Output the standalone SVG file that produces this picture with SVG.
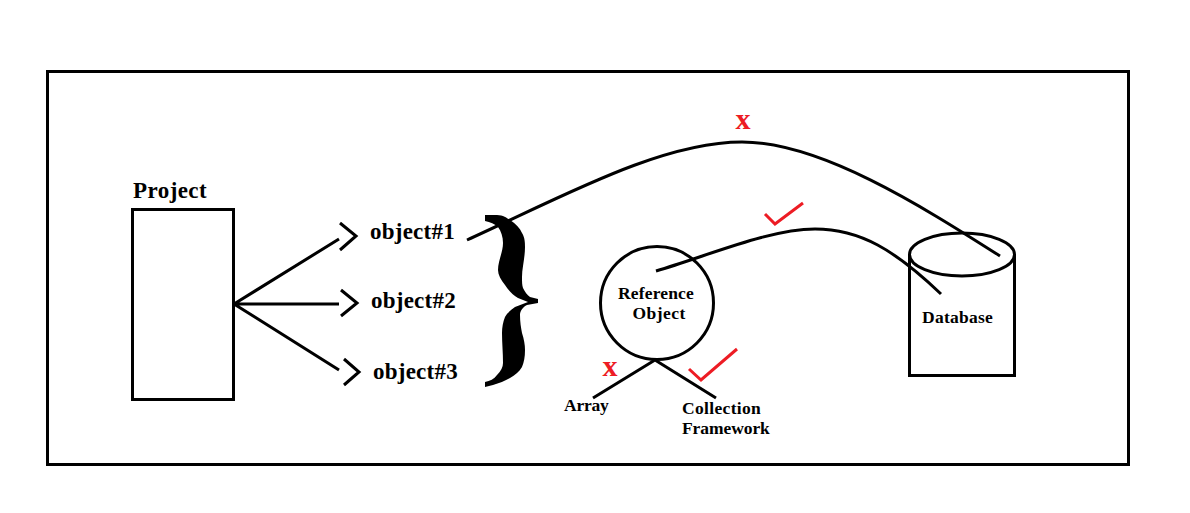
<svg xmlns="http://www.w3.org/2000/svg" width="1190" height="513" viewBox="0 0 1190 513">
<style>
.l{fill:none;stroke:#000;stroke-width:3}
.s{fill:#fff;stroke:#000;stroke-width:3}
.r{fill:none;stroke:#ed1c24;stroke-width:3}
text{font-family:"Liberation Serif","Times New Roman",serif;font-weight:bold;fill:#000}
.x{fill:#ed1c24;font-size:30px}
.a{font-size:23px;letter-spacing:.35px}
.b{font-size:17.500px;letter-spacing:.2px}
</style>
<rect width="1190" height="513" fill="#fff"/>
<rect id="frame" x="47.500" y="71.500" width="1081" height="393" class="l"/>
<g id="project">
<rect x="132.500" y="209.500" width="101" height="190" class="l"/>
<text class="a" x="133" y="198" textLength="74">Project</text>
</g>
<g id="object1"><text class="a" x="370" y="239" textLength="85">object#1</text></g>
<g id="object2"><text class="a" x="371" y="308" textLength="85">object#2</text></g>
<g id="object3"><text class="a" x="373" y="379" textLength="85">object#3</text></g>
<g id="brace">
<path fill="#000" d="M485 215 L497 215 C503 215 507 218 510 220 C516 224 520 228 522 233 C525 238 525 243 525 247 C525 258 522 268 522 277 C522 282 522 285 523 288 C525 292 527 295 530 297 L538 299 L538 303 L527 305 C523 307 520 311 520 315 C520 322 521 328 522 333 C524 339 525 345 525 350 C525 357 524 362 522 367 C519 372 515 375 510 378 C505 381 499 383 493 385 L485 387 L485 382 C490 381 494 379 497 375 C501 371 503 367 503 363 C503 353 502 343 502 333 C502 327 503 322 505 317 C507 313 511 310 515 307 L528 302 L518 298 C513 295 508 290 505 285 C501 280 498 275 498 270 C498 261 503 252 503 243 C503 237 501 231 498 227 C495 224 490 222 485 221 Z"/>
</g>
<g id="reference-object">
<circle cx="657" cy="303" r="56.500" class="l"/>
<text class="b" x="656" y="299" text-anchor="middle" textLength="76">Reference</text>
<text class="b" x="659" y="319" text-anchor="middle" textLength="53">Object</text>
</g>
<g id="database">
<path class="s" d="M909.500 254 V375.500 H1014.500 V254"/>
<ellipse cx="962" cy="254.500" rx="52.500" ry="21.500" class="l"/>
<text class="b" x="957.500" y="323" text-anchor="middle" textLength="71">Database</text>
</g>
<g id="array"><text class="b" x="564" y="411" textLength="45">Array</text></g>
<g id="collection-framework">
<text class="b" x="682" y="414" textLength="79">Collection</text>
<text class="b" x="682" y="434" textLength="88">Framework</text>
</g>
<g id="connectors">
<path class="l" d="M234 304 L339 239 M234 304 H339 M234 304 L339 370"/>
<path class="l" d="M340 223 L356 236 L340 250 M341 290 L357 303 L341 316 M344 359 L359 372 L344 385"/>
<path class="l" d="M467 240 C560 198 660 142 742 142 C820 142 920 205 1000 256"/>
<path class="l" d="M656 271 C710 255 770 229 815 229 C860 229 895 250 941 294"/>
<path class="l" d="M655 360 L593 398 M655 360 L716 398"/>
</g>
<g id="marks">
<text class="x" x="743" y="129" text-anchor="middle">x</text>
<text class="x" x="610" y="376" text-anchor="middle">x</text>
<path class="r" d="M765 214 L775 224 L803 203"/>
<path class="r" d="M689 369 L701 380 L737 349"/>
</g>
</svg>
